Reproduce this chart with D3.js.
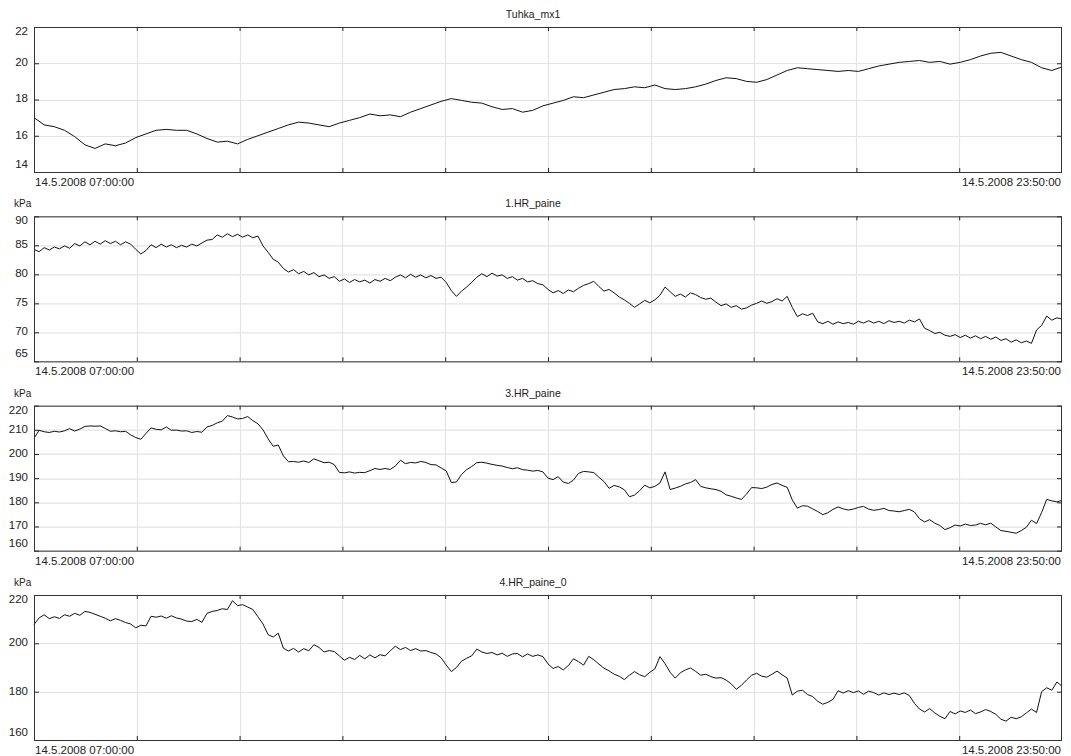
<!DOCTYPE html>
<html>
<head>
<meta charset="utf-8">
<script src="https://cdn.jsdelivr.net/npm/d3@7"></script>
<style>
  html, body { margin: 0; padding: 0; background: #ffffff; }
  svg { display: block; font-family: "Liberation Sans", Arial, sans-serif; }
</style>
</head>
<body>
<svg id="chart" width="1071" height="756"></svg>
<script>
// ---- data -------------------------------------------------------------
const panelTitles = ["Tuhka_mx1", "1.HR_paine", "3.HR_paine", "4.HR_paine_0"];
const panelUnits  = ["", "kPa", "kPa", "kPa"];
const yDomains    = [[14, 22], [65, 90], [160, 220], [160, 220]];
const yTicks      = [[14, 16, 18, 20, 22], [65, 70, 75, 80, 85, 90],
                     [160, 170, 180, 190, 200, 210, 220], [160, 180, 200, 220]];
const sampleMinutes = [10, 5, 5, 5];
const timeStart = new Date(2008, 4, 14, 7, 0, 0);
const timeEnd   = new Date(2008, 4, 14, 23, 50, 0);

const tuhkaMx1 = [
  17.0,16.6,16.5,16.3,15.95,15.5,15.3,15.55,15.45,15.6,
  15.9,16.1,16.3,16.35,16.3,16.3,16.1,15.85,15.65,15.7,
  15.55,15.8,16.0,16.2,16.4,16.6,16.75,16.7,16.6,16.5,
  16.7,16.85,17.0,17.2,17.1,17.15,17.05,17.3,17.5,17.7,
  17.9,18.05,17.95,17.85,17.8,17.6,17.45,17.5,17.3,17.4,
  17.65,17.8,17.95,18.15,18.1,18.25,18.4,18.55,18.6,18.7,
  18.65,18.8,18.6,18.55,18.6,18.7,18.85,19.05,19.2,19.15,
  19.0,18.95,19.1,19.35,19.6,19.75,19.7,19.65,19.6,19.55,
  19.6,19.55,19.7,19.85,19.95,20.05,20.1,20.15,20.05,20.1,
  19.95,20.05,20.2,20.4,20.55,20.6,20.4,20.2,20.05,19.75,
  19.6,19.8
];

const hrPaine1 = [
  84.3,83.9,84.6,84.2,84.7,84.4,84.9,84.5,85.3,84.9,
  85.6,85.1,85.7,85.2,85.8,85.3,85.7,85.1,85.6,85.2,
  84.3,83.5,84.1,85.1,84.6,85.2,84.7,85.1,84.6,85.0,
  84.7,85.2,84.9,85.4,85.9,86.0,86.8,86.4,87.0,86.5,
  86.9,86.4,86.8,86.3,86.6,84.9,83.8,82.6,82.1,81.0,
  80.4,80.8,80.1,80.5,79.9,80.3,79.6,79.9,79.3,79.6,
  78.8,79.2,78.6,79.1,78.7,79.0,78.5,79.1,78.8,79.3,
  78.9,79.5,79.9,79.4,80.0,79.5,79.9,79.4,79.8,79.3,
  79.5,78.6,77.2,76.2,77.1,77.8,78.6,79.5,80.1,79.6,
  80.2,79.7,79.9,79.3,79.6,79.0,79.3,78.7,78.9,78.4,
  78.2,77.4,76.8,77.2,76.7,77.3,77.0,77.6,78.1,78.4,
  78.8,77.9,77.1,77.4,76.8,76.1,75.6,75.0,74.3,74.9,
  75.5,75.1,75.6,76.4,77.8,77.0,76.2,76.6,76.1,76.8,
  76.5,76.0,75.7,75.9,75.2,74.6,74.9,74.3,74.6,74.0,
  74.2,74.7,75.0,75.4,75.0,75.3,75.8,75.4,76.2,74.3,
  72.7,73.2,72.9,73.3,71.8,71.5,71.9,71.4,71.8,71.5,
  71.7,71.4,71.9,71.6,72.0,71.6,71.9,71.5,72.0,71.7,
  71.9,71.6,72.1,71.8,72.3,70.7,70.3,69.8,70.0,69.5,
  69.3,69.6,69.1,69.5,69.0,69.4,68.9,69.3,68.8,69.2,
  68.6,68.9,68.3,68.7,68.2,68.5,68.1,70.4,71.2,72.8,
  72.1,72.5,72.3
];

const hrPaine3 = [
  206.5,209.8,209.2,208.9,209.4,209.1,209.6,210.5,209.5,210.3,
  211.4,211.6,211.5,211.6,210.6,209.4,209.6,209.2,209.4,207.9,
  206.8,206.1,208.5,210.8,210.2,210.0,211.2,209.8,209.9,209.5,
  209.6,208.9,209.3,209.0,211.2,211.8,212.9,213.6,215.9,215.3,
  214.5,214.7,215.5,213.8,212.5,210.0,206.3,203.2,203.7,199.2,
  196.8,196.9,196.6,197.1,196.5,198.0,197.2,196.4,196.6,195.6,
  192.4,192.2,192.6,192.1,192.4,192.3,193.1,194.0,193.6,194.0,
  193.6,195.0,197.4,196.0,196.5,196.3,196.9,196.5,195.6,195.5,
  194.2,193.0,188.2,188.4,191.5,193.5,194.8,196.4,196.6,196.2,
  195.7,195.3,195.0,194.4,193.9,194.3,193.5,193.3,192.9,193.2,
  192.6,190.0,189.4,190.6,188.4,187.8,189.2,192.0,192.8,192.6,
  192.3,190.4,188.6,185.8,187.0,186.4,185.2,182.3,183.0,184.8,
  187.1,186.0,186.6,188.0,192.6,185.3,185.9,186.6,187.6,188.2,
  189.4,186.6,186.0,185.6,185.3,184.6,183.1,182.5,181.8,181.2,
  183.4,186.1,186.0,185.7,186.3,187.4,188.0,187.0,186.2,181.0,
  177.6,178.6,178.4,177.3,176.2,174.9,175.7,177.1,178.1,177.3,
  176.8,177.2,177.9,178.3,177.2,176.7,177.0,177.5,176.6,176.4,
  176.1,176.6,177.1,176.0,173.2,171.9,172.8,171.4,170.4,168.7,
  169.5,170.6,170.2,171.0,170.4,170.6,171.3,170.7,171.4,169.8,
  168.3,168.0,167.6,167.2,168.3,169.7,172.6,171.2,175.8,181.2,
  180.6,180.2,180.8
];

const hrPaine4 = [
  207.8,210.5,211.8,210.2,211.0,210.3,211.8,211.2,212.4,211.6,
  213.2,212.8,212.0,211.2,210.4,209.3,210.2,209.5,208.6,208.0,
  206.4,207.5,207.2,211.2,210.8,211.3,210.4,211.4,210.5,210.0,
  209.2,209.0,209.9,208.7,212.4,213.2,213.6,214.3,214.0,217.6,
  215.6,216.0,215.0,214.0,211.0,208.0,203.6,202.6,204.2,198.0,
  196.8,197.9,196.4,197.8,196.9,199.4,198.3,196.4,197.0,196.6,
  194.8,193.0,194.2,193.3,195.0,193.6,195.2,194.0,195.3,194.8,
  196.9,198.8,197.4,198.3,197.0,197.8,196.8,197.0,196.2,195.6,
  194.0,191.0,188.3,190.0,192.6,193.8,194.8,197.6,196.4,195.8,
  196.2,195.2,195.9,194.6,195.6,195.8,194.4,195.6,194.6,195.2,
  194.5,191.5,189.6,190.4,189.0,190.8,193.6,192.4,191.0,194.6,
  193.2,191.4,189.7,188.6,187.2,186.4,185.0,186.8,188.3,187.0,
  186.2,188.0,189.4,194.5,191.6,188.0,185.6,187.8,189.0,189.8,
  188.4,186.8,187.2,186.2,185.6,185.8,184.8,183.2,181.0,182.6,
  184.8,186.8,187.6,186.4,186.0,187.2,188.5,187.0,185.6,178.6,
  180.2,180.6,178.8,178.0,176.0,174.8,175.6,176.8,180.4,179.4,
  180.4,179.6,180.3,178.9,180.2,179.6,178.6,179.5,178.8,179.4,
  178.8,179.5,178.4,175.2,172.8,171.6,173.0,171.2,169.8,168.8,
  171.8,170.8,172.0,171.4,172.4,170.9,171.6,172.6,171.8,170.6,
  168.6,167.8,169.4,168.8,169.6,171.2,172.8,171.4,180.0,181.6,
  180.6,184.0,182.2
];

const seriesValues = [tuhkaMx1, hrPaine1, hrPaine3, hrPaine4];

// ---- layout -----------------------------------------------------------
const plotLeft = 34, plotRight = 1062;
const firstTop = 27, panelStep = 189.33, panelHeight = 145;
const fontSize = 11.5;
const xDivisions = 10;

const svg = d3.select("#chart");
const fmt = d3.timeFormat("%-d.%-m.%Y %H:%M:%S");

const x = d3.scaleTime().domain([timeStart, timeEnd]).range([0, plotRight - plotLeft]);
const span = timeEnd - timeStart;
const xGrid = d3.range(1, xDivisions).map(k => new Date(+timeStart + span * k / xDivisions));
const W = plotRight - plotLeft;

seriesValues.forEach((vals, i) => {
  const top = firstTop + i * panelStep;
  const g = svg.append("g").attr("transform", `translate(${plotLeft},${top})`);
  const y = d3.scaleLinear().domain(yDomains[i]).range([panelHeight, 0]);

  const pts = vals.map((v, j) => ({ t: new Date(+timeStart + j * sampleMinutes[i] * 60000), v }));

  // grid
  g.append("g").selectAll("line.h").data(yTicks[i]).join("line")
    .attr("x1", 0).attr("x2", W)
    .attr("y1", d => Math.round(y(d)) + 0.5).attr("y2", d => Math.round(y(d)) + 0.5)
    .attr("stroke", "#e4e4e4").attr("stroke-width", 1.2);
  g.append("g").selectAll("line.v").data(xGrid).join("line")
    .attr("x1", d => Math.round(x(d)) + 0.5).attr("x2", d => Math.round(x(d)) + 0.5)
    .attr("y1", 0).attr("y2", panelHeight)
    .attr("stroke", "#e4e4e4").attr("stroke-width", 1.2);

  // series line
  const line = d3.line().x(d => x(d.t)).y(d => y(d.v));
  g.append("path").datum(pts).attr("d", line)
    .attr("fill", "none").attr("stroke", "#111").attr("stroke-width", 1)
    .attr("stroke-linejoin", "round");

  // inward tick marks on all four sides
  const tickStyle = sel => { sel.select(".domain").remove(); sel.selectAll("line").attr("stroke", "#222"); };
  g.append("g").call(d3.axisBottom(x).tickValues(xGrid).tickSize(4).tickFormat("")).call(tickStyle);
  g.append("g").attr("transform", `translate(0,${panelHeight})`)
    .call(d3.axisTop(x).tickValues(xGrid).tickSize(4).tickFormat("")).call(tickStyle);
  g.append("g").call(d3.axisRight(y).tickValues(yTicks[i]).tickSize(5).tickFormat("")).call(tickStyle);
  g.append("g").attr("transform", `translate(${W},0)`)
    .call(d3.axisLeft(y).tickValues(yTicks[i]).tickSize(5).tickFormat("")).call(tickStyle);

  // frame
  g.append("rect").attr("x", 0.5).attr("y", 0.5).attr("width", W - 1).attr("height", panelHeight)
    .attr("fill", "none").attr("stroke", "#333").attr("stroke-width", 1);

  // y labels
  const lastIdx = yTicks[i].length - 1;
  g.append("g").selectAll("text").data(yTicks[i]).join("text")
    .attr("x", -6)
    .attr("y", (d, k) => y(d) + fontSize * 0.34 + (k === 0 ? -8 : k === lastIdx ? 4 : -1))
    .attr("text-anchor", "end").attr("font-size", fontSize).attr("fill", "#222")
    .text(d => d);

  // title and unit
  svg.append("text").attr("x", 533).attr("y", top - 9)
    .attr("text-anchor", "middle").attr("font-size", fontSize - 1).attr("fill", "#222")
    .text(panelTitles[i]);
  if (panelUnits[i]) {
    svg.append("text").attr("x", 14).attr("y", top - 9)
      .attr("font-size", fontSize - 1.5).attr("fill", "#222").text(panelUnits[i]);
  }

  // time range labels
  svg.append("text").attr("x", plotLeft + 1).attr("y", top + panelHeight + 14)
    .attr("font-size", fontSize).attr("fill", "#222").text(fmt(timeStart));
  svg.append("text").attr("x", plotRight - 1).attr("y", top + panelHeight + 14)
    .attr("text-anchor", "end").attr("font-size", fontSize).attr("fill", "#222").text(fmt(timeEnd));
});
</script>
</body>
</html>
